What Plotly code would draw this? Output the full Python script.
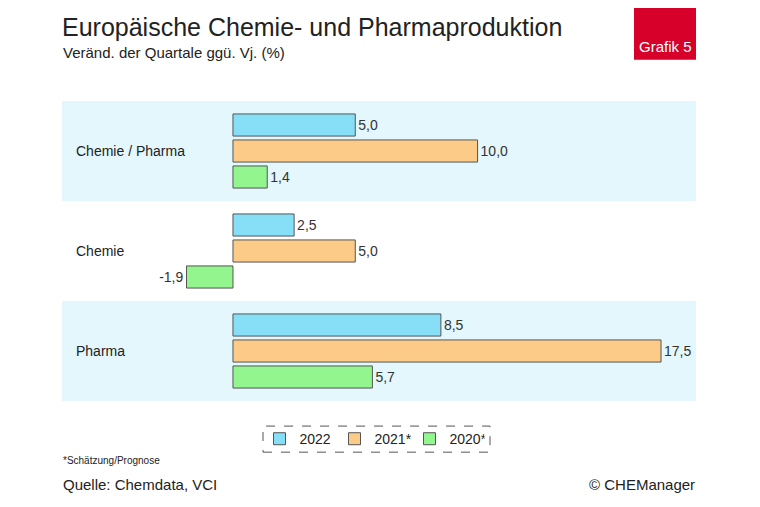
import plotly.graph_objects as go

categories = ["Chemie / Pharma", "Chemie", "Pharma"]
series_names = ["2022", "2021*", "2020*"]
v2022 = [5.0, 2.5, 8.5]
v2021 = [10.0, 5.0, 17.5]
v2020 = [1.4, -1.9, 5.7]
colors = ["#86def7", "#fccb88", "#93f58e"]

fig = go.Figure()
for name, vals, col in zip(series_names, [v2022, v2021, v2020], colors):
    fig.add_trace(go.Bar(
        y=categories, x=vals, name=name, orientation="h",
        marker=dict(color=col, line=dict(color="#555", width=1)),
        texttemplate="%{x:.1f}", textposition="outside", cliponaxis=False,
        textfont=dict(size=14, color="#333")))

def px(x):
    return (x - 62) / 634
def py(y):
    return (400 - y) / 299

shapes = []
for i, c in enumerate(categories):
    if i != 1:
        shapes.append(dict(type="rect", xref="paper", yref="y", x0=0, x1=1,
                           y0=i - 0.5, y1=i + 0.5, fillcolor="#e3f7fd",
                           line=dict(width=0), layer="below"))
shapes.append(dict(type="rect", xref="paper", yref="paper", x0=px(634), x1=1,
                   y0=py(60), y1=py(-10), fillcolor="#d6002a", line=dict(width=0)))
shapes.append(dict(type="rect", xref="paper", yref="paper",
                   x0=px(263), x1=px(490), y0=py(451), y1=py(425),
                   line=dict(color="#555", width=1, dash="dash")))

ann = []
for i, c in enumerate(categories):
    ann.append(dict(text=c, x=px(74), xref="paper", y=i, yref="y",
                    xanchor="left", showarrow=False, font=dict(size=14, color="#222")))
def txt(t, x, y, size, color="#222", xa="left"):
    ann.append(dict(text=t, x=px(x), y=py(y), xref="paper", yref="paper",
                    xanchor=xa, yanchor="middle", showarrow=False,
                    font=dict(size=size, color=color)))
txt("Europäische Chemie- und Pharmaproduktion", 60, 27, 25)
txt("Veränd. der Quartale ggü. Vj. (%)", 61, 53, 15)
txt("Grafik 5", 665, 47, 15, "white", "center")
txt("*Schätzung/Prognose", 61, 459, 10)
txt("Quelle: Chemdata, VCI", 61, 483, 15)
txt("© CHEManager", 697, 483, 15, "#222", "right")

fig.update_layout(
    width=760, height=507, margin=dict(l=54, r=72, t=93, b=114),
    paper_bgcolor="white", plot_bgcolor="white",
    font=dict(family="Liberation Sans, Arial", color="#222"),
    separators=",.", barmode="group", bargap=0.22, bargroupgap=0.15,
    xaxis=dict(range=[-6.99, 18.93], visible=False),
    yaxis=dict(autorange="reversed", visible=False),
    showlegend=True,
    legend=dict(orientation="h", x=px(372), xanchor="center",
                y=py(438), yanchor="middle", font=dict(size=14),
                bgcolor="rgba(0,0,0,0)", entrywidth=30, entrywidthmode="pixels",
                itemwidth=30),
    shapes=shapes, annotations=ann)
fig.write_html("out.html")
